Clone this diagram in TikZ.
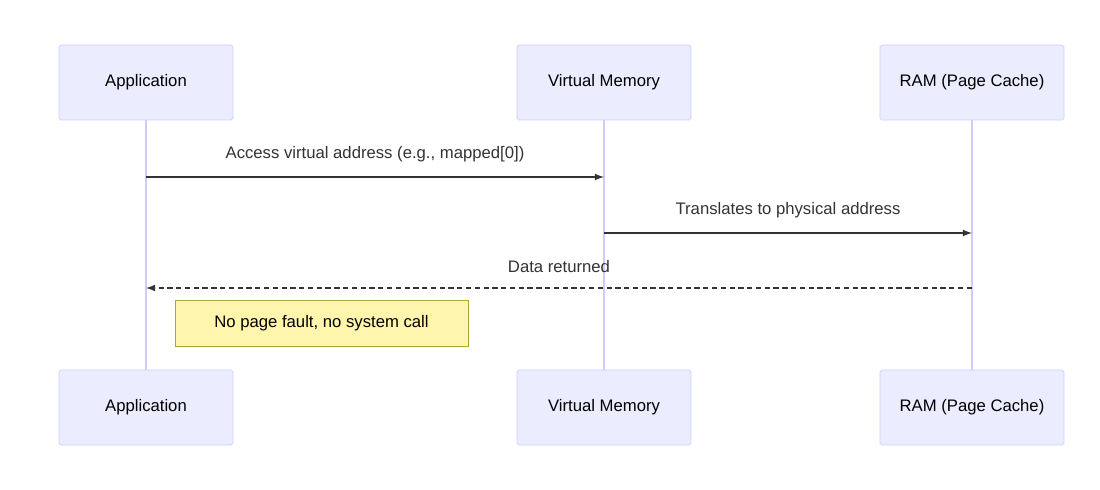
\documentclass[tikz,border=0pt]{standalone}
\usepackage{fontspec}
\setmainfont{Liberation Sans}
\usetikzlibrary{positioning}
\definecolor{actfill}{HTML}{ECECFF}
\definecolor{actline}{HTML}{CCCCFF}
\definecolor{notefill}{HTML}{FFF5AD}
\definecolor{noteline}{HTML}{AAAA33}
\definecolor{msgline}{HTML}{333333}
\tikzset{
  actor/.style={draw=actline, fill=actfill, rounded corners=1pt, minimum width=3.48cm, minimum height=1.5cm, font=\fontsize{9.5}{11}\selectfont},
  life/.style={draw=actline, line width=1pt},
  msg/.style={draw=msgline, line width=0.8pt, -latex},
  msglabel/.style={font=\fontsize{9.5}{11}\selectfont, text=msgline},
  note/.style={draw=noteline, fill=notefill, minimum width=5.86cm, minimum height=0.92cm, font=\fontsize{9.5}{11}\selectfont}
}
\begin{document}
\begin{tikzpicture}[x=0.02cm, y=-0.02cm]
    \useasboundingbox[fill=white] (0,0) rectangle (1100,490);

    % Actors, top and bottom
    \node[actor] (appTop) at (146,82.5) {Application};
    \node[actor] (vmTop)  at (604,82.5) {Virtual Memory};
    \node[actor, minimum width=3.68cm] (ramTop) at (972,82.5) {RAM (Page Cache)};
    \node[actor] (appBot) at (146,407.5) {Application};
    \node[actor] (vmBot)  at (604,407.5) {Virtual Memory};
    \node[actor, minimum width=3.68cm] (ramBot) at (972,407.5) {RAM (Page Cache)};

    % Lifelines
    \draw[life] (appTop) -- (appBot);
    \draw[life] (vmTop) -- (vmBot);
    \draw[life] (ramTop) -- (ramBot);

    % Message anchors
    \coordinate (m1a) at (146,177); \coordinate (m1b) at (604,177);
    \coordinate (m2a) at (604,233); \coordinate (m2b) at (972,233);
    \coordinate (m3a) at (972,288); \coordinate (m3b) at (146,288);

    % Messages
    \draw[msg] (m1a) -- node[msglabel, above=5pt] {Access virtual address (e.g., mapped[0])} (m1b);
    \draw[msg] (m2a) -- node[msglabel, above=5pt] {Translates to physical address} (m2b);
    \draw[msg, dashed, dash pattern=on 3pt off 2pt] (m3a) -- node[msglabel, above=5pt] {Data returned} (m3b);

    % Note
    \node[note] (noPageFault) at (321.5,323) {No page fault, no system call};
\end{tikzpicture}
\end{document}
